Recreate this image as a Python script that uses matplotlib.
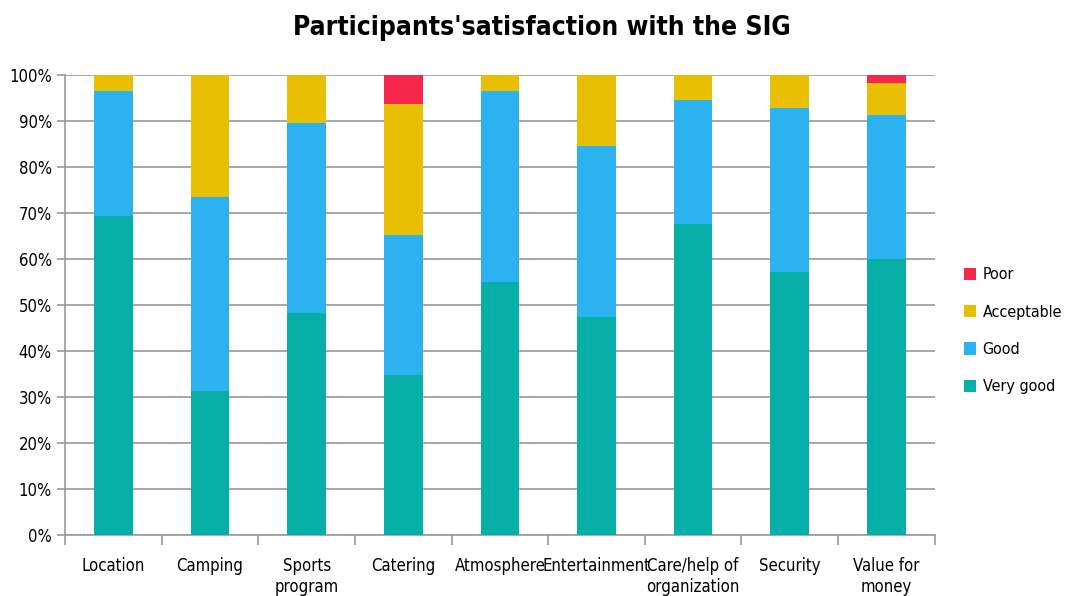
import matplotlib
matplotlib.use("Agg")
import matplotlib.pyplot as plt
from matplotlib.ticker import MultipleLocator, FuncFormatter, FixedLocator
import numpy as np

plt.rcParams['font.family'] = ['DejaVu Sans']
plt.rcParams['font.stretch'] = 'condensed'

categories = ["Location", "Camping", "Sports\nprogram", "Catering", "Atmosphere",
              "Entertainment", "Care/help of\norganization", "Security", "Value for\nmoney"]
very_good = [69.3, 31.3, 48.3, 34.8, 55.1, 47.4, 67.7, 57.2, 60.1]
good = [27.1, 42.2, 41.2, 30.3, 41.3, 37.2, 26.9, 35.7, 31.1]
acceptable = [3.6, 26.5, 10.5, 28.6, 3.6, 15.4, 5.4, 7.1, 7.0]
poor = [0, 0, 0, 6.3, 0, 0, 0, 0, 1.8]

series = [("Very good", very_good, "#05AFA8"),
          ("Good", good, "#2CB2F0"),
          ("Acceptable", acceptable, "#E9BF06"),
          ("Poor", poor, "#F5274A")]

fig = plt.figure(figsize=(10.67, 5.96), dpi=100)
ax = fig.add_axes([0.061, 0.1023, 0.815, 0.772])

x = np.arange(len(categories))
bottom = np.zeros(len(categories))
handles = []
for name, vals, color in series:
    b = ax.bar(x, vals, width=0.4, bottom=bottom, color=color, label=name, zorder=3)
    handles.append(b)
    bottom += np.array(vals)

ax.set_xlim(-0.5, len(categories) - 0.5)
ax.set_ylim(0, 100)
ax.yaxis.set_major_locator(MultipleLocator(10))
ax.yaxis.set_major_formatter(FuncFormatter(lambda v, _: f"{v:.0f}%"))
ax.grid(axis="y", color="#9a9a9a", linewidth=1.2, zorder=0)

# category labels centred, tick marks on boundaries
ax.set_xticks(x)
ax.set_xticklabels(categories, fontsize=12, va="top")
ax.tick_params(axis="x", length=0, pad=16)
ax.xaxis.set_minor_locator(FixedLocator(np.arange(-0.5, len(categories), 1.0)))
ax.tick_params(axis="x", which="minor", length=7, color="#9a9a9a", width=1.2)
ax.tick_params(axis="y", labelsize=12, length=6, color="#9a9a9a", width=1.2)

for side in ["top", "right"]:
    ax.spines[side].set_visible(False)
for side in ["left", "bottom"]:
    ax.spines[side].set_color("#9a9a9a")
    ax.spines[side].set_linewidth(1.2)

fig.legend(handles[::-1], [s[0] for s in series][::-1], loc="center left",
           bbox_to_anchor=(0.903, 0.445), frameon=False, fontsize=11.5,
           handlelength=0.8, handleheight=0.8, labelspacing=1.4, handletextpad=0.4,
           borderaxespad=0, borderpad=0)

fig.suptitle("Participants'satisfaction with the SIG", x=0.508, y=0.975,
             fontsize=19, fontweight="bold")

fig.savefig("out.png", dpi=100)
